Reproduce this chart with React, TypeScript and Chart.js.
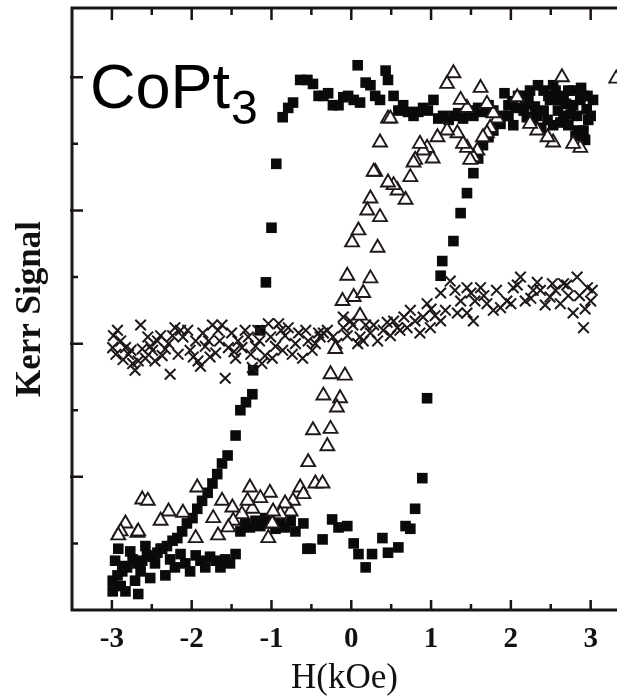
import { useEffect, useRef } from "react";
import { Chart, registerables } from "chart.js";

Chart.register(...registerables);

// H (kOe), Kerr signal (arb. units)
const filledSquares: [number, number][] = [
  [3.03, 1.83], [2.97, 1.68], [2.91, 1.86], [2.84, 1.6], [2.78, 1.79], [2.72, 1.9], [2.66, 1.71],
  [2.59, 1.83], [2.53, 1.64], [2.47, 1.86], [2.41, 1.75], [2.34, 1.94], [2.28, 1.68], [2.22, 1.83],
  [2.16, 1.75], [2.09, 1.86], [2.03, 1.64], [1.97, 1.79], [1.9, 1.71], [1.84, 1.68], [1.78, 1.75],
  [1.72, 1.79], [1.65, 1.74], [1.59, 1.77], [1.53, 1.71], [1.47, 1.75], [1.4, 1.69], [1.34, 1.73],
  [1.28, 1.71], [1.22, 1.68], [1.15, 1.71], [1.09, 1.69], [1.03, 1.83], [0.96, 1.75], [0.9, 1.77],
  [0.84, 1.74], [0.78, 1.71], [0.71, 1.74], [0.65, 1.79], [0.59, 1.75], [0.53, 1.86], [0.46, 1.98],
  [0.43, 2.05], [0.36, 1.83], [0.3, 1.86], [0.24, 1.94], [0.18, 1.96], [0.11, 1.81], [0.08, 2.09],
  [0.03, 1.83], [-0.04, 1.86], [-0.1, 1.85], [-0.16, 1.79], [-0.23, 1.79], [-0.29, 1.88], [-0.35, 1.86],
  [-0.41, 1.86], [-0.48, 1.95], [-0.55, 1.98], [-0.64, 1.98], [-0.73, 1.81], [-0.79, 1.77], [-0.86, 1.7],
  [-0.94, 1.35], [-1.0, 0.87], [-1.07, 0.46], [-1.14, 0.1], [-1.23, -0.2], [-1.24, -0.38], [-1.32, -0.44],
  [-1.39, -0.5], [-1.45, -0.69], [-1.55, -0.84], [-1.62, -0.9], [-1.68, -0.98], [-1.74, -1.05],
  [-1.8, -1.12], [-1.87, -1.18], [-1.93, -1.24], [-1.99, -1.31], [-2.06, -1.35], [-2.12, -1.41],
  [-2.18, -1.46], [-2.24, -1.48], [-2.31, -1.52], [-2.37, -1.54], [-2.43, -1.57], [-2.49, -1.6],
  [-2.56, -1.59], [-2.62, -1.63], [-2.68, -1.65], [-2.74, -1.62], [-2.81, -1.68], [-2.87, -1.71],
  [-2.93, -1.74], [-2.99, -1.78],
  [-2.99, -1.86], [-2.96, -1.63], [-2.92, -1.54], [-2.89, -1.82], [-2.86, -1.67], [-2.83, -1.86],
  [-2.77, -1.56], [-2.71, -1.78], [-2.67, -1.88], [-2.64, -1.71], [-2.58, -1.52], [-2.52, -1.76],
  [-2.46, -1.65], [-2.39, -1.54], [-2.33, -1.74], [-2.27, -1.62], [-2.21, -1.68], [-2.14, -1.58],
  [-2.08, -1.65], [-2.02, -1.71], [-1.95, -1.59], [-1.89, -1.63], [-1.83, -1.68], [-1.77, -1.6],
  [-1.7, -1.63], [-1.64, -1.68], [-1.58, -1.62], [-1.52, -1.65], [-1.45, -1.58], [-1.39, -1.41],
  [-1.33, -1.35], [-1.27, -1.38], [-1.2, -1.33], [-1.14, -1.37], [-1.08, -1.31], [-1.02, -1.35],
  [-0.95, -1.39], [-0.89, -1.35], [-0.83, -1.38], [-0.76, -1.33], [-0.7, -1.41], [-0.6, -1.35],
  [-0.55, -1.54], [-0.51, -1.54], [-0.36, -1.47], [-0.24, -1.32], [-0.16, -1.38], [-0.05, -1.37],
  [0.03, -1.5], [0.09, -1.58], [0.18, -1.68], [0.26, -1.58], [0.39, -1.46], [0.46, -1.57],
  [0.59, -1.53], [0.68, -1.37], [0.74, -1.39], [0.8, -1.24], [0.89, -1.01], [0.95, -0.41],
  [1.12, 0.51], [1.14, 0.62], [1.28, 0.77], [1.37, 0.98], [1.45, 1.13], [1.53, 1.28], [1.59, 1.39],
  [1.65, 1.49], [1.72, 1.55], [1.78, 1.6], [1.87, 1.65], [1.97, 1.71], [2.06, 1.77], [2.12, 1.86],
  [2.18, 1.8], [2.24, 1.9], [2.33, 1.71], [2.41, 1.9], [2.46, 1.68], [2.49, 1.83], [2.53, 1.94],
  [2.59, 1.75], [2.66, 1.86], [2.72, 1.64], [2.78, 1.9], [2.83, 1.71], [2.87, 1.83], [2.91, 1.6],
  [2.96, 1.86], [3.0, 1.71], [2.93, 1.53], [2.81, 1.56],
  [2.3, 1.78], [2.38, 1.62], [2.56, 1.9], [2.62, 1.66], [2.69, 1.8], [2.75, 1.72], [2.88, 1.92],
  [2.95, 1.76], [2.2, 1.7], [2.02, 1.82], [1.92, 1.88],
];

const openTriangles: [number, number][] = [
  [3.32, 1.99], [2.87, 1.47], [2.78, 1.5], [2.64, 2.0], [2.53, 1.51], [2.46, 1.55], [2.33, 1.6],
  [2.24, 1.65], [2.08, 1.85], [1.83, 1.69], [1.74, 1.62], [1.78, 1.73], [1.7, 1.8], [1.62, 1.92],
  [1.7, 1.58], [1.65, 1.55], [1.58, 1.45], [1.53, 1.4], [1.49, 1.38], [1.45, 1.47], [1.45, 1.77],
  [1.4, 1.5], [1.37, 1.83], [1.33, 1.58], [1.28, 2.03], [1.2, 1.95], [1.2, 1.6], [1.08, 1.55],
  [1.02, 1.39], [0.95, 1.47], [0.9, 1.45], [0.86, 1.5], [0.8, 1.38], [0.78, 1.36], [0.74, 1.25],
  [0.68, 1.08], [0.58, 1.15], [0.53, 1.19], [0.46, 1.21], [0.46, 1.69], [0.49, 1.69], [0.36, 1.51],
  [0.3, 1.29], [0.28, 1.29], [0.24, 1.09], [0.36, 0.95], [0.2, 1.0], [0.09, 0.85], [0.01, 0.76],
  [0.33, 0.72], [-0.05, 0.51], [-0.11, 0.32], [0.03, 0.35], [0.24, 0.49], [0.15, 0.38], [0.11, 0.21],
  [-0.2, -0.04], [-0.26, -0.23], [-0.08, -0.24], [-0.35, -0.39], [-0.14, -0.41], [-0.18, -0.48],
  [-0.48, -0.65], [-0.26, -0.64], [-0.3, -0.77], [-0.54, -0.89], [-0.45, -1.05], [-0.36, -1.05],
  [-0.64, -1.08], [-0.6, -1.13], [-0.73, -1.18], [-0.76, -1.26], [-0.83, -1.2], [-0.89, -1.28],
  [-0.99, -1.35], [-1.04, -1.46], [-1.02, -1.12], [-1.14, -1.16], [-0.98, -1.26], [-1.27, -1.08],
  [-1.24, -1.24], [-1.37, -1.28], [-1.3, -1.18], [-1.48, -1.33], [-1.49, -1.23], [-1.54, -1.38],
  [-1.62, -1.18], [-1.73, -1.31], [-1.67, -1.44], [-1.93, -1.08], [-2.11, -1.27], [-1.95, -1.46],
  [-2.29, -1.26], [-2.39, -1.33], [-2.62, -1.17], [-2.55, -1.18], [-2.68, -1.42], [-2.83, -1.35],
  [-2.89, -1.41], [-2.67, -1.41], [-2.92, -1.44],
];

const crosses: [number, number][] = [
  [-2.93, 0.1], [-2.99, -0.03], [-2.83, -0.03], [-2.89, 0.02], [-2.74, -0.15], [-2.67, -0.13],
  [-2.58, -0.11], [-2.71, -0.2], [-2.49, -0.05], [-2.39, 0.06], [-2.29, 0.0], [-2.27, -0.23],
  [-2.21, 0.12], [-2.11, 0.05], [-2.02, -0.05], [-1.92, -0.13], [-1.83, -0.02], [-1.79, 0.02],
  [-1.74, 0.14], [-1.67, 0.1], [-1.58, -0.26], [-1.54, -0.03], [-1.45, -0.11], [-1.37, -0.03],
  [-1.29, 0.05], [-1.24, -0.18], [-1.17, 0.1], [-1.12, -0.15], [-1.04, 0.15], [-0.99, -0.11],
  [-0.91, 0.15], [-0.86, -0.05], [-0.79, 0.12], [-0.74, -0.08], [-0.66, 0.08], [-0.61, -0.11],
  [-0.54, 0.02], [-0.49, -0.05], [-0.41, 0.08], [-2.64, 0.14], [-2.52, -0.02], [-2.98, 0.06],
  [-2.79, -0.08], [-2.46, -0.13], [-2.37, -0.09], [-2.14, 0.1], [-1.95, 0.02], [-1.89, -0.17],
  [-1.7, -0.07], [-1.62, 0.14], [-1.42, 0.02], [-1.2, -0.02], [-1.08, -0.09], [-0.83, 0.06],
  [-0.39, 0.05], [-0.35, 0.08], [-0.23, 0.05], [-0.1, 0.2], [-0.1, 0.12], [0.08, 0.0], [0.11, 0.05],
  [0.24, 0.08], [0.33, 0.02], [0.4, 0.1], [0.53, 0.17], [0.58, 0.12], [0.7, 0.12], [0.74, 0.25],
  [0.86, 0.08], [0.95, 0.3], [0.99, 0.12], [1.12, 0.38], [1.12, 0.17], [1.24, 0.47], [1.33, 0.23],
  [1.45, 0.42], [1.45, 0.23], [1.53, 0.17], [1.62, 0.42], [1.7, 0.3], [1.87, 0.27], [2.03, 0.42],
  [2.12, 0.5], [2.28, 0.4], [2.49, 0.35], [2.62, 0.3], [2.66, 0.45], [2.78, 0.23], [2.83, 0.5],
  [2.91, 0.12], [2.96, 0.42], [1.95, 0.32], [2.18, 0.32], [2.37, 0.4], [2.43, 0.29], [2.56, 0.4],
  [2.72, 0.36], [3.0, 0.32], [1.78, 0.25], [1.55, 0.32], [1.37, 0.32], [1.18, 0.25], [1.05, 0.21],
  [0.8, 0.17], [0.61, 0.1], [0.49, 0.06], [0.18, 0.14], [-0.01, 0.17],
  [-2.95, -0.08], [-2.86, -0.12], [-2.76, -0.05], [-2.62, -0.04], [-2.55, 0.05], [-2.43, 0.02],
  [-2.33, -0.04], [-2.24, 0.06], [-2.17, -0.08], [-2.05, 0.1], [-1.98, -0.1], [-1.86, 0.08],
  [-1.77, -0.1], [-1.65, 0.02], [-1.5, 0.08], [-1.47, -0.06], [-1.33, 0.1], [-1.26, -0.08],
  [-1.15, 0.02], [-1.01, 0.05], [-0.95, -0.02], [-0.88, 0.1], [-0.7, 0.0], [-0.57, 0.1],
  [-0.45, 0.0], [-0.3, 0.1], [-0.18, 0.0], [-0.05, 0.06], [0.02, 0.14], [0.15, 0.02], [0.28, 0.14],
  [0.45, 0.16], [0.66, 0.2], [0.9, 0.2], [1.0, 0.26], [1.3, 0.4], [1.5, 0.38], [1.66, 0.36],
  [1.82, 0.4], [2.0, 0.3], [2.08, 0.44], [2.25, 0.34], [2.33, 0.46], [2.52, 0.45], [2.7, 0.44],
  [2.86, 0.36], [2.93, 0.26], [3.02, 0.4],
];

const xTickLabels = [-3, -2, -1, 0, 1, 2, 3];
const xMinorTicks = [-2.5, -1.5, -0.5, 0.5, 1.5, 2.5];
const yMajorTicks = [-1, 0, 1, 2];
const yMinorTicks = [-1.5, -0.5, 0.5, 1.5];

const toPoints = (arr: [number, number][]) => arr.map(([x, y]) => ({ x, y }));

const framePlugin = {
  id: "frameTicks",
  afterDraw(chart: any) {
    const { ctx, chartArea, scales } = chart;
    const { left, top, bottom } = chartArea;
    const xs = scales.x;
    const ys = scales.y;
    const farRight = chart.width + 2;
    ctx.save();
    ctx.strokeStyle = "#1a1414";
    ctx.lineCap = "butt";
    ctx.lineWidth = 3;
    ctx.beginPath();
    ctx.moveTo(farRight, top);
    ctx.lineTo(left, top);
    ctx.lineTo(left, bottom);
    ctx.lineTo(farRight, bottom);
    ctx.stroke();
    ctx.lineWidth = 2.5;
    ctx.beginPath();
    xTickLabels.forEach((v) => {
      const p = xs.getPixelForValue(v);
      ctx.moveTo(p, top);
      ctx.lineTo(p, top + 12);
      ctx.moveTo(p, bottom);
      ctx.lineTo(p, bottom - 10);
    });
    xMinorTicks.forEach((v) => {
      const p = xs.getPixelForValue(v);
      ctx.moveTo(p, top);
      ctx.lineTo(p, top + 7);
      ctx.moveTo(p, bottom);
      ctx.lineTo(p, bottom - 6);
    });
    yMajorTicks.forEach((v) => {
      const p = ys.getPixelForValue(v);
      ctx.moveTo(left - 2, p);
      ctx.lineTo(left + 11, p);
    });
    yMinorTicks.forEach((v) => {
      const p = ys.getPixelForValue(v);
      ctx.moveTo(left, p);
      ctx.lineTo(left + 6, p);
    });
    ctx.stroke();

    ctx.fillStyle = "#000";
    ctx.textBaseline = "alphabetic";
    ctx.textAlign = "left";
    ctx.font = '63px "Liberation Sans", Arial, sans-serif';
    const tx = left + 18;
    ctx.fillText("CoPt", tx, top + 100);
    const w = ctx.measureText("CoPt").width;
    ctx.font = '48px "Liberation Sans", Arial, sans-serif';
    ctx.fillText("3", tx + w + 1, top + 116);
    ctx.restore();
  },
};

export default function App() {
  const ref = useRef<HTMLCanvasElement | null>(null);

  useEffect(() => {
    document.documentElement.style.overflow = "hidden";
    document.body.style.overflow = "hidden";
    document.body.style.margin = "0";
    if (!ref.current) return;
    const chart = new Chart(ref.current, {
      type: "scatter",
      data: {
        datasets: [
          {
            label: "open triangles",
            data: toPoints(openTriangles),
            pointStyle: "triangle",
            pointRadius: 8,
            backgroundColor: "#ffffff",
            borderColor: "#201818",
            borderWidth: 1.9,
            order: 0,
          },
          {
            label: "crosses",
            data: toPoints(crosses),
            pointStyle: "crossRot",
            pointRadius: 7.5,
            backgroundColor: "#1f1818",
            borderColor: "#1f1818",
            borderWidth: 2,
            order: 1,
          },
          {
            label: "filled squares",
            data: toPoints(filledSquares),
            pointStyle: "rect",
            pointRadius: 7.5,
            backgroundColor: "#0a0a0a",
            borderColor: "#0a0a0a",
            borderWidth: 0,
            order: 2,
          },
        ],
      },
      options: {
        responsive: false,
        animation: false,
        events: [],
        layout: { autoPadding: false, padding: { top: 8, right: 0, left: 0, bottom: 0 } },
        plugins: {
          legend: { display: false },
          tooltip: { enabled: false },
        },
        scales: {
          x: {
            type: "linear",
            min: -3.5,
            max: 3.33,
            grid: { display: false, drawTicks: false },
            border: { display: false },
            afterBuildTicks: (axis: any) => {
              axis.ticks = xTickLabels.map((v) => ({ value: v }));
            },
            afterFit: (axis: any) => {
              axis.height = 86;
              axis.paddingLeft = 0;
              axis.paddingRight = 0;
            },
            ticks: {
              padding: 12,
              color: "#111",
              maxRotation: 0,
              autoSkip: false,
              font: { family: '"Liberation Serif", "Times New Roman", serif', size: 29, weight: "bold" },
              callback: (v: any) => String(v),
            },
            title: {
              display: true,
              text: "H(kOe)",
              color: "#111",
              padding: { top: 0, bottom: 0 },
              font: { family: '"Liberation Serif", "Times New Roman", serif', size: 35, lineHeight: 1.0 },
            },
          },
          y: {
            type: "linear",
            min: -2,
            max: 2.52,
            grid: { display: false, drawTicks: false },
            border: { display: false },
            ticks: { display: false },
            afterFit: (axis: any) => {
              axis.width = 72;
              axis.paddingTop = 0;
              axis.paddingBottom = 0;
            },
            title: {
              display: true,
              text: "Kerr Signal",
              color: "#111",
              padding: { top: 10, bottom: 0 },
              font: { family: '"Liberation Serif", "Times New Roman", serif', size: 35, weight: "bold" },
            },
          },
        },
      },
      plugins: [framePlugin],
    });
    return () => chart.destroy();
  }, []);

  return (
    <div
      style={{
        position: "fixed",
        left: 0,
        top: 0,
        width: 617,
        height: 696,
        overflow: "hidden",
        background: "#fff",
      }}
    >
      <canvas
        ref={ref}
        width={617}
        height={696}
        style={{ display: "block", width: 617, height: 696 }}
      />
    </div>
  );
}
